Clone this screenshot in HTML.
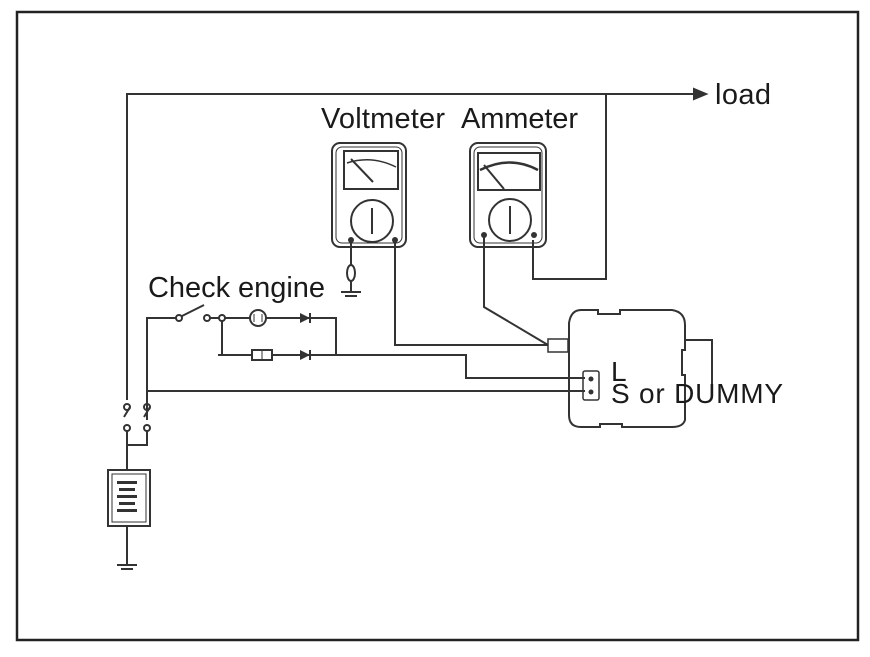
<!DOCTYPE html>
<html><head><style>
body{margin:0;background:#fff;}
svg{display:block;}
text{font-family:"Liberation Sans",sans-serif;fill:#1a1a1a;}
</style></head><body>
<svg width="870" height="657" viewBox="0 0 870 657" xmlns="http://www.w3.org/2000/svg">
<rect width="870" height="657" fill="#fff"/>
<rect x="17" y="12" width="841" height="628" fill="none" stroke="#222" stroke-width="2.5"/>
<g fill="none" stroke="#333" stroke-width="2">
<polyline points="127,400 127,94 700,94"/>
<polygon points="706,94 694,89 694,99" fill="#333"/>
<polyline points="606,94 606,279 533,279 533,240"/>
<rect x="332" y="143" width="74" height="104" rx="8"/>
<rect x="336" y="147" width="66" height="96" rx="6" stroke-width="1"/>
<rect x="344" y="151" width="54" height="38"/>
<path d="M347,163 Q372,155 396,167" stroke-width="1.5"/>
<line x1="351" y1="159" x2="373" y2="182"/>
<circle cx="372" cy="221" r="21"/>
<line x1="372" y1="208" x2="372" y2="234"/>
<rect x="470" y="143" width="76" height="104" rx="8"/>
<rect x="474" y="147" width="68" height="96" rx="6" stroke-width="1"/>
<rect x="478" y="153" width="62" height="37"/>
<path d="M480,170 Q510,155 538,170" stroke-width="2.5"/>
<line x1="484" y1="165" x2="504" y2="189"/>
<circle cx="510" cy="220" r="21"/>
<line x1="510" y1="206" x2="510" y2="234"/>
<line x1="351" y1="240" x2="351" y2="265"/>
<ellipse cx="351" cy="273" rx="4" ry="8"/>
<line x1="351" y1="281" x2="351" y2="292"/>
<line x1="341" y1="292" x2="361" y2="292"/>
<line x1="345" y1="296" x2="357" y2="296"/>
<polyline points="395,240 395,345 548,345"/>
<polyline points="484,235 484,307 548,345"/>
<path d="M581,310 L598,310 L598,314 L620,314 L620,310 L672,310 Q685,312 685,325 L685,350 L682,350 L682,375 L685,375 L685,420 Q683,427 672,427 L622,427 L622,424 L600,424 L600,427 L581,427 Q569,427 569,415 L569,323 Q571,310 581,310 Z"/>
<polyline points="686,340 712,340 712,395"/>
<rect x="548" y="339" width="20" height="13" stroke-width="1.5"/>
<rect x="583" y="371" width="16" height="29" rx="2" stroke-width="1.5"/>
<polyline points="218,355 466,355 466,378 585,378"/>
<polyline points="147,391 585,391"/>
<polyline points="147,420 147,318 176,318"/>
<circle cx="179" cy="318" r="3"/>
<line x1="182" y1="316" x2="204" y2="305"/>
<circle cx="207" cy="318" r="3"/>
<line x1="210" y1="318" x2="219" y2="318"/>
<circle cx="222" cy="318" r="3"/>
<polyline points="225,318 336,318 336,355"/>
<polyline points="222,321 222,355 250,355"/>
<circle cx="258" cy="318" r="8" fill="#fff"/>
<line x1="254" y1="314" x2="254" y2="322" stroke-width="1"/>
<line x1="262" y1="314" x2="262" y2="322" stroke-width="1"/>
<rect x="252" y="350" width="20" height="10" fill="#fff"/>
<line x1="262" y1="350" x2="262" y2="360" stroke-width="1"/>
<circle cx="127" cy="407" r="3"/><circle cx="147" cy="407" r="3"/>
<circle cx="127" cy="428" r="3"/><circle cx="147" cy="428" r="3"/>
<path d="M124,417 Q127,412 130,407 M144,417 Q147,412 150,407"/>
<polyline points="127,431 127,470"/>
<polyline points="147,431 147,445 127,445"/>
<rect x="108" y="470" width="42" height="56"/>
<rect x="112" y="474" width="34" height="48" stroke-width="1"/>
<line x1="127" y1="526" x2="127" y2="565"/>
<line x1="117" y1="565" x2="137" y2="565"/>
<line x1="121" y1="569" x2="133" y2="569"/>
</g>
<g fill="#333">
<polygon points="300,313 310,318 300,323"/><rect x="309" y="313" width="2" height="10"/>
<polygon points="300,350 310,355 300,360"/><rect x="309" y="350" width="2" height="10"/>
<circle cx="351" cy="240" r="3"/><circle cx="395" cy="240" r="3"/>
<circle cx="484" cy="235" r="3"/><circle cx="534" cy="235" r="3"/>
<circle cx="591" cy="379" r="2.5"/><circle cx="591" cy="392" r="2.5"/>
<rect x="117" y="481" width="20" height="3"/><rect x="119" y="488" width="16" height="3"/>
<rect x="117" y="495" width="20" height="3"/><rect x="119" y="502" width="16" height="3"/>
<rect x="117" y="509" width="20" height="3"/>
</g>
<text x="321" y="128" font-size="29" textLength="124">Voltmeter</text>
<text x="461" y="128" font-size="29" textLength="117">Ammeter</text>
<text x="715" y="104" font-size="29" textLength="56">load</text>
<text x="148" y="297" font-size="29" textLength="177">Check engine</text>
<text x="611" y="381" font-size="28">L</text>
<text x="611" y="403" font-size="28" textLength="172">S or DUMMY</text>
</svg>
</body></html>
